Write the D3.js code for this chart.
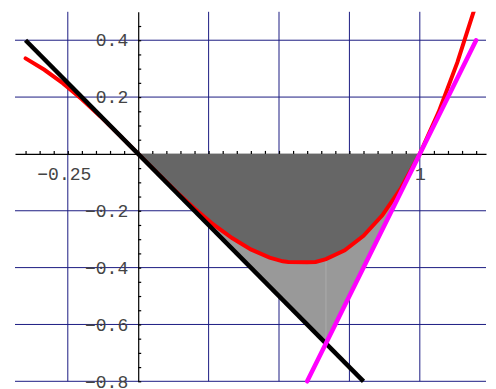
<!DOCTYPE html>
<html>
<head>
<meta charset="utf-8">
<script src="https://cdn.jsdelivr.net/npm/d3@7"></script>
<style>
  html, body { margin: 0; padding: 0; background: #fff; }
  svg { display: block; }
  .lbl text { font-family: "Liberation Mono", "DejaVu Sans Mono", monospace; font-size: 18px; fill: #444; }
</style>
</head>
<body>
<script>
// Curve y = f(x) sampled along the plotted range
const curveX = [-0.4, -0.3333, -0.2667, -0.2, -0.1333, -0.0667, 0, 0.0667, 0.1333, 0.2, 0.2667, 0.3333,
                0.4, 0.4667, 0.5133, 0.5333, 0.6, 0.63, 0.6667, 0.7333, 0.8, 0.8667, 0.9333, 1.0,
                1.0667, 1.1333, 1.2];
const curveY = [0.336, 0.296, 0.248, 0.192, 0.131, 0.066, 0, -0.066, -0.131, -0.192, -0.248, -0.296,
                -0.336, -0.365, -0.378, -0.380, -0.381, -0.380, -0.370, -0.339, -0.288, -0.216, -0.120, 0,
                0.147, 0.322, 0.528];

// Tangent at x = 0 (black) and tangent at x = 1 (magenta), as end points
const tangentLeftX = [-0.4, 0.8];
const tangentLeftY = [0.4, -0.8];
const tangentRightX = [0.6, 1.2];
const tangentRightY = [-0.8, 0.4];

// Grid and tick values
const xGridValues = [-0.25, 0.25, 0.5, 0.75, 1];
const yGridValues = [0.4, 0.2, -0.2, -0.4, -0.6, -0.8];
const xTickLabels = [-0.25, 1];
const yTickLabels = [0.4, 0.2, -0.2, -0.4, -0.6, -0.8];
const xMinorTicks = d3.range(-8, 25).map(i => i * 0.05);
const yMinorTicks = d3.range(-16, 10).map(i => i * 0.05);

const W = 496, H = 389;
const x = d3.scaleLinear().domain([-0.4375, 1.235]).range([15, 486]);
const y = d3.scaleLinear().domain([-0.8, 0.5]).range([381.3, 11.8]);

const svg = d3.select("body").append("svg").attr("width", W).attr("height", H);

svg.append("defs").append("clipPath").attr("id", "plotClip")
  .append("rect")
  .attr("x", x.range()[0] - 6).attr("y", y(0.5))
  .attr("width", x.range()[1] - x.range()[0] + 12)
  .attr("height", y(-0.8) - y(0.5) + 8);

// Grid
const grid = svg.append("g").attr("stroke", "#1c1c82").attr("stroke-width", 1);
grid.selectAll("line.v").data(xGridValues).join("line").attr("class", "v")
  .attr("x1", d => x(d)).attr("x2", d => x(d))
  .attr("y1", y(0.5)).attr("y2", y(-0.8));
grid.selectAll("line.h").data(yGridValues).join("line").attr("class", "h")
  .attr("x1", x.range()[0]).attr("x2", x.range()[1])
  .attr("y1", d => y(d)).attr("y2", d => y(d));

// Axes with small ticks
const xAxis = d3.axisBottom(x).tickValues(xMinorTicks).tickSizeInner(-3).tickSizeOuter(0).tickFormat("");
const yAxis = d3.axisLeft(y).tickValues(yMinorTicks).tickSizeInner(-3).tickSizeOuter(0).tickFormat("");
svg.append("g").attr("transform", `translate(0,${y(0)})`).attr("color", "#000").call(xAxis)
  .selectAll("path, line").attr("stroke-width", 1.2);
svg.append("g").attr("transform", `translate(${x(0)},0)`).attr("color", "#000").call(yAxis)
  .selectAll("path, line").attr("stroke-width", 1.2);

// Tick labels
const xLab = svg.append("g").attr("class", "lbl").attr("transform", `translate(0,${y(0)})`)
  .call(d3.axisBottom(x).tickValues(xTickLabels).tickSize(0).tickPadding(13)
    .tickFormat(d => d < 0 ? "\u2212" + d3.format("")(-d) : d3.format("")(d)));
xLab.select(".domain").remove();
xLab.selectAll("text").attr("dx", d => d < 0 ? -4 : 0);

const yLab = svg.append("g").attr("class", "lbl").attr("transform", `translate(${x(0)},0)`)
  .call(d3.axisLeft(y).tickValues(yTickLabels).tickSize(0).tickPadding(10)
    .tickFormat(d => d < 0 ? "\u2212" + d3.format(".1f")(-d) : d3.format(".1f")(d)));
yLab.select(".domain").remove();

// Regions
const pts = curveX.map((cx, i) => [cx, curveY[i]]);
const slopeL = (tangentLeftY[1] - tangentLeftY[0]) / (tangentLeftX[1] - tangentLeftX[0]);
const slopeR = (tangentRightY[1] - tangentRightY[0]) / (tangentRightX[1] - tangentRightX[0]);
const bL = tangentLeftY[0] - slopeL * tangentLeftX[0];
const bR = tangentRightY[0] - slopeR * tangentRightX[0];
const ix = (bR - bL) / (slopeL - slopeR);
const iy = slopeL * ix + bL;

const poly = d3.line().x(d => x(d[0])).y(d => y(d[1]));
svg.append("path")
  .attr("d", poly([[0, 0], [ix, iy], [1, 0]]) + "Z")
  .attr("fill", "#999999");

// seam line inside the lighter region
const seamTop = pts.reduce((a, b) => Math.abs(b[0] - ix) < Math.abs(a[0] - ix) ? b : a);
svg.append("line")
  .attr("x1", x(ix)).attr("x2", x(ix)).attr("y1", y(iy)).attr("y2", y(seamTop[1]))
  .attr("stroke", "#ababab").attr("stroke-width", 1);

const inner = pts.filter(p => p[0] >= 0 && p[0] <= 1);
svg.append("path")
  .attr("d", poly(inner.concat([[1, 0], [0, 0]])) + "Z")
  .attr("fill", "#666666");

// Curves
svg.append("path")
  .attr("clip-path", "url(#plotClip)")
  .attr("d", poly(pts))
  .attr("fill", "none").attr("stroke", "#ff0000").attr("stroke-width", 4)
  .attr("stroke-linejoin", "miter").attr("stroke-linecap", "round");

svg.append("path")
  .attr("d", poly(tangentLeftX.map((v, i) => [v, tangentLeftY[i]])))
  .attr("fill", "none").attr("stroke", "#000").attr("stroke-width", 4.5).attr("stroke-linecap", "butt");

svg.append("path")
  .attr("d", poly(tangentRightX.map((v, i) => [v, tangentRightY[i]])))
  .attr("fill", "none").attr("stroke", "#ff00ff").attr("stroke-width", 4.5).attr("stroke-linecap", "round");
</script>
</body>
</html>
